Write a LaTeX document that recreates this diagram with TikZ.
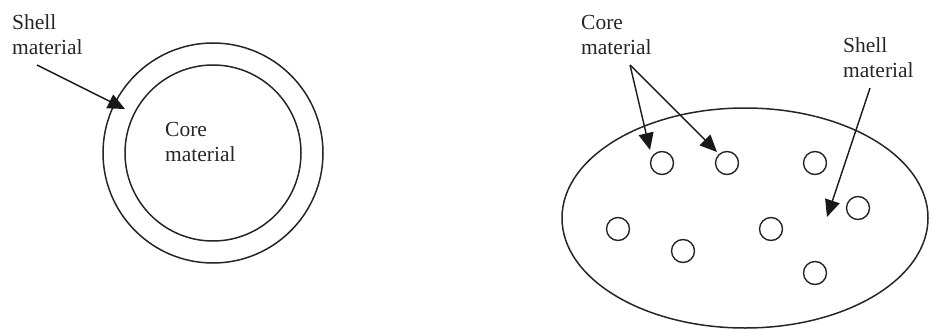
\documentclass[tikz,border=0pt]{standalone}
\usepackage{fontspec}
\setmainfont{Liberation Serif}
\usetikzlibrary{arrows.meta,shapes.geometric}
\tikzset{
  mc wall/.style={
    circle,
    draw=black!85,
    line width=1.5pt,
    inner sep=0pt,
  },
  mc matrix/.style={
    ellipse,
    draw=black!85,
    line width=1.5pt,
    minimum width=366pt,
    minimum height=220pt,
    inner sep=0pt,
  },
  mc particle/.style={
    circle,
    draw=black!85,
    line width=1.4pt,
    minimum size=23pt,
    inner sep=0pt,
  },
  mc label/.style={
    align=left,
    anchor=north west,
    inner sep=0pt,
    text=black!85,
    font=\fontsize{21.5}{25}\selectfont,
  },
  mc arrow/.style={-{Triangle[length=17pt,width=15pt]}, line width=1.4pt, black!90},
}

\begin{document}
\begin{tikzpicture}[x=1pt,y=-1pt]
  \useasboundingbox (0,0) rectangle (933,329);
  \node[mc wall, minimum size=220pt] (shell) at (213,153) {};
  \node[mc wall, minimum size=176pt] (core) at (213,153) {};
  \node[mc label] (core label) at (165,122.5) {Core\\material};
  \node[mc label] (shell label) at (12,14) {Shell\\material};
  \coordinate (shell tail) at (37,65);
  \coordinate (shell tip) at (125,109);
  \draw[mc arrow] (shell tail) -- (shell tip);

  \node[mc matrix] (matrix) at (745,218) {};
  \foreach \name/\x/\y in {p1/662/163, p2/727/163, p3/815/163, p4/858/208,
                           p5/618/229, p6/683/251, p7/771/229, p8/815/273}
    \node[mc particle] (\name) at (\x,\y) {};
  \node[mc label] (core label r) at (581,15.5) {Core\\material};
  \node[mc label] (shell label r) at (843,37) {Shell\\material};
  \coordinate (core tail) at (630,65);
  \coordinate (core tip a) at (650,150);
  \coordinate (core tip b) at (717,152);
  \coordinate (matrix tail) at (870,88);
  \coordinate (matrix tip) at (827,217);
  \draw[mc arrow] (core tail) -- (core tip a);
  \draw[mc arrow] (core tail) -- (core tip b);
  \draw[mc arrow] (matrix tail) -- (matrix tip);
\end{tikzpicture}
\end{document}
